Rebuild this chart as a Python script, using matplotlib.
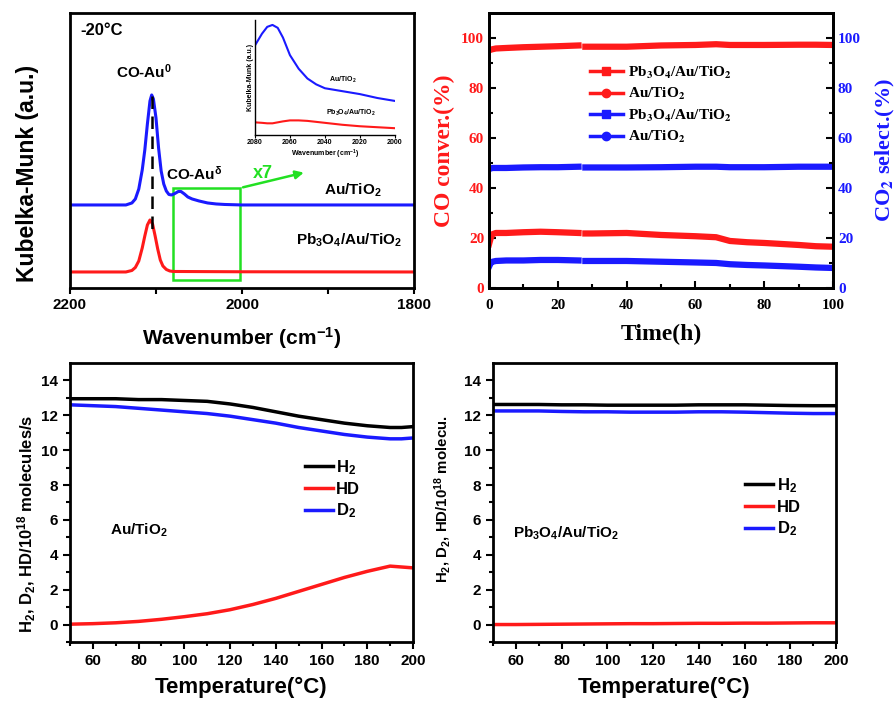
import numpy as np
import matplotlib
matplotlib.use("Agg")
import matplotlib.pyplot as plt
from matplotlib.lines import Line2D
from matplotlib.patches import Rectangle

plt.rcParams['font.family'] = ['Liberation Sans', 'DejaVu Sans']
plt.rcParams['font.weight'] = 'bold'
plt.rcParams['axes.labelweight'] = 'bold'
plt.rcParams['mathtext.fontset'] = 'custom'
plt.rcParams['mathtext.rm'] = 'Liberation Sans:bold'
plt.rcParams['mathtext.it'] = 'Liberation Sans:bold:italic'
plt.rcParams['mathtext.bf'] = 'Liberation Sans:bold'
plt.rcParams['mathtext.default'] = 'rm'
plt.rcParams['axes.linewidth'] = 2.0

# --- DRIFTS spectra (-20 C), arbitrary units
wn_au = [2200, 2135, 2128, 2124, 2120, 2116, 2113, 2110, 2107, 2105, 2103, 2100, 2097,
         2094, 2091, 2088, 2085, 2082, 2078, 2074, 2071, 2067, 2063, 2058, 2050, 2040,
         2030, 2020, 2000, 1800]
km_au = [6.7, 6.7, 6.9, 7.3, 8.3, 10.2, 12.2, 14.8, 17.1, 17.7, 17.3, 15.4, 12.4,
         10.1, 8.8, 8.1, 7.75, 7.7, 7.85, 8.05, 8.05, 7.8, 7.5, 7.3, 7.1, 6.9,
         6.8, 6.75, 6.7, 6.7]
wn_pb = [2200, 2135, 2128, 2124, 2120, 2116, 2113, 2110, 2107, 2104, 2101, 2098, 2095,
         2092, 2088, 2084, 2080, 2000, 1800]
km_pb = [0, 0, 0.15, 0.45, 1.1, 2.4, 3.6, 4.7, 5.2, 4.8, 3.6, 2.3, 1.2,
         0.6, 0.25, 0.1, 0.05, 0.02, 0]

# inset (x7 zoom of 2080-2000)
wn_in = [2080, 2076, 2073, 2070, 2067, 2064, 2060, 2055, 2050, 2045, 2040, 2030, 2020, 2010, 2000]
km_in_au = [92, 104, 111, 113, 110, 100, 82, 68, 58, 52, 48, 45, 42, 38, 35]
km_in_pb = [13, 12.5, 12, 12, 13, 14, 15, 15, 14.5, 13.5, 12.5, 10.5, 9, 8, 7]

# --- long-term stability
time_h = [0, 0.5, 1, 2, 5, 10, 15, 20, 26, 27, 28, 30, 40, 50, 60, 66, 70, 75, 80, 90, 95, 100]
conv_pb = [95, 95.3, 95.5, 95.8, 96, 96.3, 96.5, 96.7, 97, np.nan, 96.5, 96.5, 96.5, 97,
           97.2, 97.5, 97.2, 97.2, 97.2, 97.3, 97.3, 97.2]
conv_au = [17.5, 20, 21.5, 22, 22, 22.3, 22.5, 22.3, 22, np.nan, 21.8, 21.8, 22, 21.2,
           20.7, 20.3, 18.8, 18.3, 18, 17.2, 16.7, 16.5]
sel_pb = [47.5, 47.8, 48, 48, 48, 48.2, 48.3, 48.3, 48.5, np.nan, 48.2, 48.2, 48.2, 48.3,
          48.5, 48.5, 48.3, 48.3, 48.3, 48.5, 48.5, 48.5]
sel_au = [8.5, 10, 10.5, 10.8, 11, 11, 11.2, 11.2, 11, np.nan, 10.8, 10.8, 10.8, 10.5,
          10.2, 10, 9.5, 9.2, 9, 8.5, 8.2, 8]

# --- H2/D2 exchange
temp_c = [50, 60, 70, 80, 90, 100, 110, 120, 130, 140, 150, 160, 170, 180, 190, 195, 200]
h2_au = [12.95, 12.95, 12.95, 12.9, 12.9, 12.85, 12.8, 12.65, 12.45, 12.2, 11.95, 11.75,
         11.55, 11.4, 11.3, 11.3, 11.35]
d2_au = [12.6, 12.55, 12.5, 12.4, 12.3, 12.2, 12.1, 11.95, 11.75, 11.55, 11.3, 11.1,
         10.9, 10.75, 10.65, 10.65, 10.7]
hd_au = [0.02, 0.05, 0.1, 0.18, 0.3, 0.45, 0.62, 0.85, 1.15, 1.5, 1.9, 2.3, 2.7, 3.05,
         3.35, 3.3, 3.25]
h2_pb = [12.62, 12.62, 12.62, 12.6, 12.6, 12.58, 12.58, 12.58, 12.58, 12.6, 12.6, 12.6,
         12.58, 12.56, 12.55, 12.55, 12.55]
d2_pb = [12.25, 12.25, 12.25, 12.22, 12.2, 12.2, 12.18, 12.18, 12.18, 12.2, 12.2, 12.18,
         12.15, 12.12, 12.1, 12.1, 12.1]
hd_pb = [0.0, 0.0, 0.01, 0.02, 0.03, 0.04, 0.05, 0.05, 0.06, 0.07, 0.07, 0.08, 0.08,
         0.09, 0.1, 0.1, 0.1]

RED = '#ff1a1a'
BLUE = '#1a1aff'
GREEN = '#22e022'

fig = plt.figure(figsize=(8.96, 7.01), dpi=100)

# ---------------- panel 1: spectra ----------------
ax1 = fig.add_axes([0.0781, 0.5892, 0.384, 0.3923])
ax1.plot(wn_au, km_au, color=BLUE, lw=2.2)
ax1.plot(wn_pb, km_pb, color=RED, lw=2.2)
ax1.plot([2105, 2105], [17.6, 4.0], color='black', lw=1.8, ls=(0, (5, 3)))
ax1.add_patch(Rectangle((2080, -0.8), -78, 9.2, fill=False, edgecolor=GREEN, lw=1.8))
ax1.annotate('', xy=(1925, 10.0), xytext=(2002, 8.4),
             arrowprops=dict(arrowstyle='-|>', color=GREEN, lw=1.8, mutation_scale=12))
ax1.text(1976, 9.0, 'x7', color=GREEN, fontsize=13, ha='center', va='bottom')
ax1.set_xlim(2200, 1800)
ax1.set_ylim(-1.6, 25.9)
ax1.set_xticks([2200, 2100, 2000, 1900, 1800])
ax1.set_xticklabels(['2200', '', '2000', '', '1800'])
ax1.set_yticks([])
ax1.tick_params(axis='x', direction='out', length=4, width=1.5, labelsize=11)
ax1.set_xlabel('Wavenumber (cm$^{-1}$)', fontsize=15)
ax1.xaxis.set_label_coords(0.5, -0.135)
ax1.set_ylabel('Kubelka-Munk (a.u.)', fontsize=16.5)
ax1.yaxis.set_label_coords(-0.09, 0.418)
ax1.text(0.03, 0.935, '-20°C', transform=ax1.transAxes, fontsize=12, va='center')
ax1.text(2114, 20.0, 'CO-Au$^0$', fontsize=11, ha='center', va='center')
ax1.text(2055, 9.8, 'CO-Au$^{\\delta}$', fontsize=11, ha='center', va='center')
ax1.text(1838, 8.2, 'Au/TiO$_2$', fontsize=11, ha='right', va='center')
ax1.text(1814, 3.2, 'Pb$_3$O$_4$/Au/TiO$_2$', fontsize=11, ha='right', va='center')

# inset
axi = fig.add_axes([0.2846, 0.8074, 0.156, 0.164])
axi.plot(wn_in, km_in_au, color=BLUE, lw=1.5)
axi.plot(wn_in, km_in_pb, color=RED, lw=1.5)
axi.set_xlim(2080, 2000)
axi.set_ylim(0, 118)
axi.set_xticks([2080, 2060, 2040, 2020, 2000])
axi.set_yticks([])
axi.spines['top'].set_visible(False)
axi.spines['right'].set_visible(False)
for s in ['left', 'bottom']:
    axi.spines[s].set_linewidth(1.0)
axi.tick_params(axis='x', direction='out', length=2, width=0.8, labelsize=5, pad=1)
axi.set_xlabel('Wavenumber (cm$^{-1}$)', fontsize=5, labelpad=1)
axi.set_ylabel('Kubelka-Munk (a.u.)', fontsize=5, labelpad=1)
axi.text(2030, 55, 'Au/TiO$_2$', fontsize=5, ha='center')
axi.text(2025, 21, 'Pb$_3$O$_4$/Au/TiO$_2$', fontsize=5, ha='center')
axi.patch.set_alpha(0)

# ---------------- panel 2: stability ----------------
serif = dict(family=['Liberation Serif', 'DejaVu Serif'], weight='bold', math_fontfamily='stix')
ax2 = fig.add_axes([0.5458, 0.5892, 0.384, 0.3923])
ax2.plot(time_h, conv_pb, color=RED, lw=4.5)
ax2.plot(time_h, conv_au, color=RED, lw=4.5)
ax2.plot(time_h, sel_pb, color=BLUE, lw=4.5)
ax2.plot(time_h, sel_au, color=BLUE, lw=4.5)
ax2.set_xlim(0, 100)
ax2.set_ylim(0, 110)
ax2.set_xticks(np.arange(0, 101, 20))
ax2.set_xticks(np.arange(0, 101, 10), minor=True)
ax2.set_yticks(np.arange(0, 101, 20))
ax2.set_yticks(np.arange(0, 101, 10), minor=True)
ax2.tick_params(which='both', direction='in', width=1.5)
ax2.tick_params(which='major', length=5)
ax2.tick_params(which='minor', length=3)
ax2.tick_params(axis='y', labelcolor=RED)
ax2.tick_params(axis='x', pad=8)
ax2r = ax2.twinx()
ax2r.set_ylim(0, 110)
ax2r.set_yticks(np.arange(0, 101, 20))
ax2r.set_yticks(np.arange(0, 101, 10), minor=True)
ax2r.tick_params(which='both', direction='in', width=1.5, labelcolor=BLUE)
ax2r.tick_params(which='major', length=5)
ax2r.tick_params(which='minor', length=3)
for lab in ax2.get_xticklabels() + ax2.get_yticklabels() + ax2r.get_yticklabels():
    lab.set_fontfamily(serif['family'])
    lab.set_fontsize(11)
ax2.set_xlabel('Time(h)', fontsize=17, fontfamily=serif['family'])
ax2.xaxis.set_label_coords(0.5, -0.13)
ax2.set_ylabel('CO conver.(%)', fontsize=17, color=RED, fontfamily=serif['family'])
ax2.yaxis.set_label_coords(-0.1, 0.5)
ax2r.set_ylabel(r'CO$_\mathbf{2}$ select.(%)', fontsize=16, color=BLUE,
                fontfamily=serif['family'], math_fontfamily='stix', rotation=90)
ax2r.yaxis.set_label_coords(1.118, 0.5)
leg_handles = [
    Line2D([], [], color=RED, lw=2.5, marker='s', ms=6),
    Line2D([], [], color=RED, lw=2.5, marker='o', ms=6),
    Line2D([], [], color=BLUE, lw=2.5, marker='s', ms=6),
    Line2D([], [], color=BLUE, lw=2.5, marker='o', ms=6),
]
leg_labels = [r'Pb$_\mathbf{3}$O$_\mathbf{4}$/Au/TiO$_\mathbf{2}$', r'Au/TiO$_\mathbf{2}$',
              r'Pb$_\mathbf{3}$O$_\mathbf{4}$/Au/TiO$_\mathbf{2}$', r'Au/TiO$_\mathbf{2}$']
ax2.legend(leg_handles, leg_labels, loc='upper left', bbox_to_anchor=(0.27, 0.84),
           frameon=False, prop=dict(size=11, **serif), handlelength=2.2,
           handletextpad=0.3, labelspacing=0.35, borderpad=0)

# ---------------- panels 3/4: H2-D2 exchange ----------------
def exchange_panel(rect, h2, hd, d2, label, ylabel, ylab_size, ylab_xy, leg_anchor, text_xy):
    ax = fig.add_axes(rect)
    ax.plot(temp_c, h2, color='black', lw=2.5, label='H$_2$')
    ax.plot(temp_c, hd, color=RED, lw=2.5, label='HD')
    ax.plot(temp_c, d2, color=BLUE, lw=2.5, label='D$_2$')
    ax.set_xlim(50, 200)
    ax.set_ylim(-1, 15)
    ax.set_xticks(np.arange(60, 201, 20))
    ax.set_xticks(np.arange(50, 201, 10), minor=True)
    ax.set_yticks(np.arange(0, 15, 2))
    ax.set_yticks(np.arange(-1, 15, 1), minor=True)
    ax.tick_params(which='both', direction='out', width=1.5, labelsize=11)
    ax.tick_params(which='major', length=5)
    ax.tick_params(which='minor', length=3)
    ax.set_xlabel('Temperature(°C)', fontsize=16)
    ax.xaxis.set_label_coords(0.5, -0.125)
    ax.set_ylabel(ylabel, fontsize=ylab_size)
    ax.yaxis.set_label_coords(*ylab_xy)
    ax.legend(loc='upper left', bbox_to_anchor=leg_anchor, frameon=False, fontsize=12,
              handlelength=1.7, handletextpad=0.2, labelspacing=0.3, borderpad=0)
    ax.text(text_xy[0], text_xy[1], label, fontsize=11, va='center')
    return ax

exchange_panel([0.0781, 0.0842, 0.3828, 0.398], h2_au, hd_au, d2_au, 'Au/TiO$_2$',
               'H$_2$, D$_2$, HD/10$^{18}$ molecules/s', 12, (-0.093, 0.423),
               (0.66, 0.69), (67.5, 5.4))
exchange_panel([0.5502, 0.0842, 0.3828, 0.398], h2_pb, hd_pb, d2_pb, 'Pb$_3$O$_4$/Au/TiO$_2$',
               'H$_2$, D$_2$, HD/10$^{18}$ molecu.', 10.8, (-0.118, 0.513),
               (0.71, 0.625), (58.7, 5.25))

fig.savefig('out.png', dpi=100)
